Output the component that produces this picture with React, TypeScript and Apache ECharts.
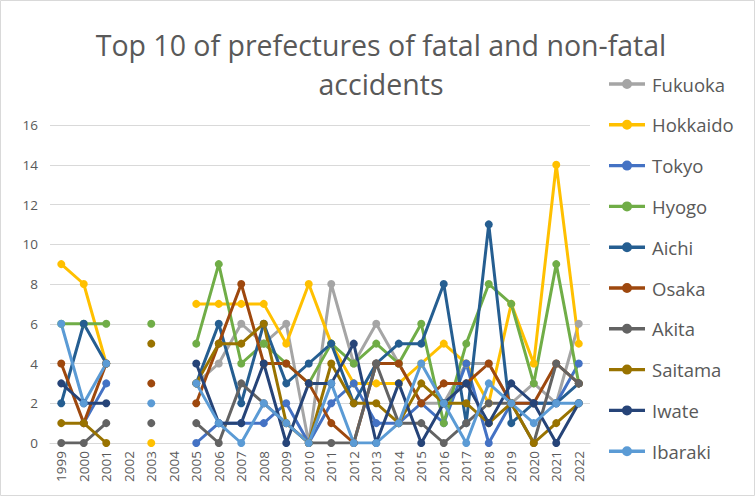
import React, { useEffect, useRef } from "react";
import * as echarts from "echarts";

const years = ["1999","2000","2001","2002","2003","2004","2005","2006","2007","2008","2009","2010","2011","2012","2013","2014","2015","2016","2017","2018","2019","2020","2021","2022"];
const yTicks = [0, 2, 4, 6, 8, 10, 12, 14, 16];
const titleLines = ["Top 10 of prefectures of fatal and non-fatal", "accidents"];

const fukuoka = [null, null, null, null, null, null, 3, 4, 6, 5, 6, 0, 8, 4, 6, 4, 2, 2, 4, 4, 2, 3, 2, 6];
const hokkaido = [9, 8, 4, null, 0, null, 7, 7, 7, 7, 5, 8, 5, 3, 3, 3, 4, 5, 4, 2, 7, 4, 14, 5];
const tokyo = [null, 1, 3, null, null, null, 0, 1, 1, 1, 2, 0, 2, 3, 1, 1, 2, 1, 4, 0, 2, 2, 2, 4];
const hyogo = [6, 6, 6, null, 6, null, 5, 9, 4, 5, 4, 3, 5, 4, 5, 4, 6, 1, 5, 8, 7, 3, 9, 3];
const aichi = [2, 6, 4, null, null, null, 3, 6, 2, 6, 3, 4, 5, 2, 4, 5, 5, 8, 1, 11, 1, 2, 2, 3];
const osaka = [4, 1, 4, null, 3, null, 2, 5, 8, 4, 4, 3, 1, 0, 4, 4, 2, 3, 3, 4, 2, 2, 4, 3];
const akita = [0, 0, 1, null, 1, null, 1, 0, 3, 2, 1, 0, 0, 0, 4, 1, 1, 0, 1, 2, 2, 0, 4, 3];
const saitama = [1, 1, 0, null, 5, null, 3, 5, 5, 6, 1, 0, 4, 2, 2, 1, 3, 2, 2, 1, 2, 0, 1, 2];
const iwate = [3, 2, 2, null, null, null, 4, 1, 1, 4, 0, 3, 3, 5, 0, 3, 0, 2, 3, 1, 3, 2, 0, 2];
const ibaraki = [6, 2, 4, null, 2, null, 3, 1, 0, 2, 1, 0, 3, 0, 0, 1, 4, 2, 0, 3, 2, 1, 2, 2];

const seriesNames = ["Fukuoka", "Hokkaido", "Tokyo", "Hyogo", "Aichi", "Osaka", "Akita", "Saitama", "Iwate", "Ibaraki"];
const seriesData = [fukuoka, hokkaido, tokyo, hyogo, aichi, osaka, akita, saitama, iwate, ibaraki];
const colors = ["#A5A5A5", "#FFC000", "#4472C4", "#70AD47", "#255E91", "#9E480E", "#636363", "#997300", "#264478", "#5B9BD5"];

const FONT = "'Open Sans', 'Liberation Sans', sans-serif";
const LEGEND_ICON =
  "path://M0,4.3L13.5,4.3L13.5,7.7L0,7.7Z M22.5,4.3L36,4.3L36,7.7L22.5,7.7Z M13,6a5,5 0 1,1 10,0a5,5 0 1,1 -10,0Z M18,0L18.01,0L18.01,0.01Z M18,12L18.01,12L18.01,11.99Z";

export default function App() {
  const ref = useRef<HTMLDivElement>(null);
  useEffect(() => {
    if (!ref.current) return;
    const chart = echarts.init(ref.current, null, { renderer: "svg" });
    chart.setOption({
      animation: false,
      backgroundColor: "#ffffff",
      color: colors,
      graphic: [
        {
          type: "rect",
          shape: { x: 0.5, y: 0.5, width: 754, height: 495 },
          style: { fill: "none", stroke: "#D9D9D9", lineWidth: 1 },
          silent: true,
        },
        {
          type: "text",
          x: 381,
          y: 64,
          style: {
            text: titleLines.join("\n"),
            fill: "#595959",
            font: `28.5px ${FONT}`,
            textAlign: "center",
            textVerticalAlign: "middle",
            lineHeight: 39,
          },
        },
      ],
      legend: {
        orient: "vertical",
        left: 609,
        top: 73,
        itemWidth: 36,
        itemHeight: 12,
        itemGap: 18.8,
        padding: 0,
        icon: LEGEND_ICON,
        textStyle: { color: "#595959", fontSize: 18.5, fontFamily: FONT, lineHeight: 22, padding: [0, 0, 0, 2] },
        data: seriesNames,
      },
      grid: { left: 50, right: 165, top: 125, bottom: 53 },
      xAxis: {
        type: "category",
        data: years,
        boundaryGap: true,
        axisLine: { show: true, lineStyle: { color: "#D9D9D9" } },
        axisTick: { show: false },
        axisLabel: { rotate: 90, color: "#595959", fontSize: 13.5, fontFamily: FONT, margin: 8, interval: 0 },
      },
      yAxis: {
        type: "value",
        min: 0,
        max: 16,
        interval: 2,
        axisLine: { show: false },
        axisTick: { show: false },
        splitLine: { lineStyle: { color: "#D9D9D9", width: 1 } },
        axisLabel: {
          color: "#595959",
          fontSize: 13.5,
          fontFamily: FONT,
          margin: 12,
          formatter: (v: number) => (yTicks.includes(v) ? String(v) : ""),
        },
      },
      series: seriesNames.map((name, i) => ({
        name,
        type: "line",
        data: seriesData[i],
        connectNulls: false,
        showAllSymbol: true,
        symbol: "circle",
        symbolSize: 8,
        lineStyle: { width: 3, color: colors[i] },
        itemStyle: { color: colors[i] },
        emphasis: { disabled: true },
      })),
    });
    return () => chart.dispose();
  }, []);
  return <div ref={ref} style={{ width: 755, height: 496, position: "absolute", left: 0, top: 0 }} />;
}
